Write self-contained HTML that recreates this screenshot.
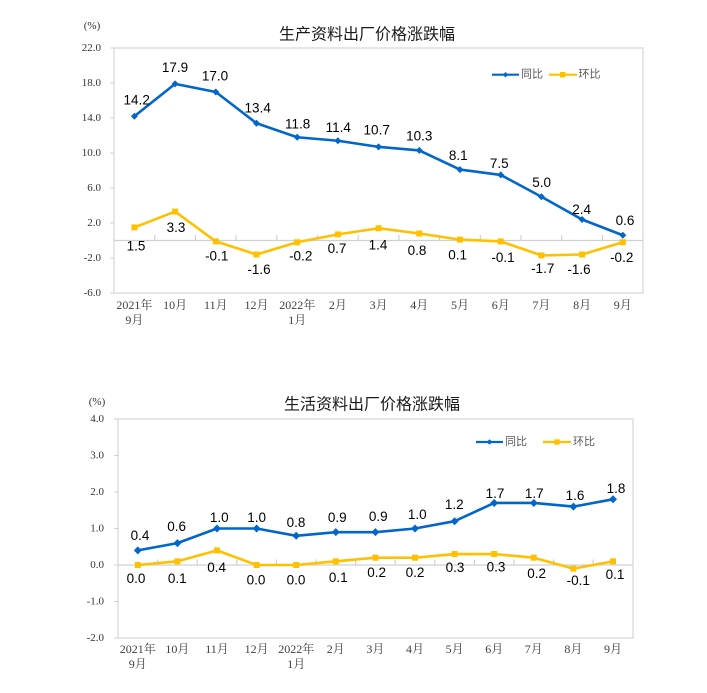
<!DOCTYPE html>
<html>
<head>
<meta charset="utf-8">
<style>
  html, body { margin:0; padding:0; background:#fff; }
  svg { display:block; }
  .t { font-family:"Liberation Sans","Noto Sans CJK SC",sans-serif; }
  .ttl { font-family:"Liberation Sans","Noto Sans CJK SC",sans-serif; font-size:16px; fill:#1a1a1a; }
  .yl { font-family:"Liberation Serif","Noto Serif CJK SC",serif; font-size:11px; fill:#333; }
  .xl { font-family:"Liberation Serif","Noto Serif CJK SC","Noto Sans CJK SC",serif; font-size:12px; fill:#404040; }
  .dl { font-family:"Liberation Sans",sans-serif; font-size:13.5px; fill:#000; }
  .lg { font-family:"Liberation Sans","Noto Sans CJK SC",sans-serif; font-size:11px; fill:#595959; }
</style>
</head>
<body>
<svg width="707" height="693" viewBox="0 0 707 693" xmlns="http://www.w3.org/2000/svg">
<rect x="0" y="0" width="707" height="693" fill="#fff"/>

<!-- ================= TOP CHART ================= -->
<text class="yl" x="92" y="26" text-anchor="middle" dominant-baseline="central">(%)</text>
<text class="ttl" x="367" y="35" text-anchor="middle" dominant-baseline="central">生产资料出厂价格涨跌幅</text>

<rect x="114" y="48" width="529" height="245" fill="none" stroke="#d6d6d6" stroke-width="1.2"/>
<!-- left axis ticks -->
<g stroke="#d0d0d0" stroke-width="1">
  <line x1="110" y1="48" x2="114" y2="48"/>
  <line x1="110" y1="83" x2="114" y2="83"/>
  <line x1="110" y1="118" x2="114" y2="118"/>
  <line x1="110" y1="153" x2="114" y2="153"/>
  <line x1="110" y1="188" x2="114" y2="188"/>
  <line x1="110" y1="223" x2="114" y2="223"/>
  <line x1="110" y1="258" x2="114" y2="258"/>
  <line x1="110" y1="293" x2="114" y2="293"/>
</g>
<!-- zero line + category ticks -->
<g stroke="#d0d0d0" stroke-width="1.2">
  <line x1="114" y1="240.5" x2="643" y2="240.5"/>
  <line x1="154.7" y1="235" x2="154.7" y2="240.5"/>
  <line x1="195.4" y1="235" x2="195.4" y2="240.5"/>
  <line x1="236.1" y1="235" x2="236.1" y2="240.5"/>
  <line x1="276.8" y1="235" x2="276.8" y2="240.5"/>
  <line x1="317.5" y1="235" x2="317.5" y2="240.5"/>
  <line x1="358.2" y1="235" x2="358.2" y2="240.5"/>
  <line x1="398.9" y1="235" x2="398.9" y2="240.5"/>
  <line x1="439.6" y1="235" x2="439.6" y2="240.5"/>
  <line x1="480.3" y1="235" x2="480.3" y2="240.5"/>
  <line x1="521.0" y1="235" x2="521.0" y2="240.5"/>
  <line x1="561.7" y1="235" x2="561.7" y2="240.5"/>
  <line x1="602.4" y1="235" x2="602.4" y2="240.5"/>
</g>
<!-- y labels -->
<g class="yl" text-anchor="end" dominant-baseline="central">
  <text x="101" y="48">22.0</text>
  <text x="101" y="83">18.0</text>
  <text x="101" y="118">14.0</text>
  <text x="101" y="153">10.0</text>
  <text x="101" y="188">6.0</text>
  <text x="101" y="223">2.0</text>
  <text x="101" y="258">-2.0</text>
  <text x="101" y="293">-6.0</text>
</g>
<!-- x labels -->
<g class="xl" text-anchor="middle" dominant-baseline="central">
  <text x="134.4" y="305">2021年</text><text x="134.4" y="320">9月</text>
  <text x="175.1" y="305">10月</text>
  <text x="215.8" y="305">11月</text>
  <text x="256.5" y="305">12月</text>
  <text x="297.2" y="305">2022年</text><text x="297.2" y="320">1月</text>
  <text x="337.9" y="305">2月</text>
  <text x="378.6" y="305">3月</text>
  <text x="419.3" y="305">4月</text>
  <text x="460.0" y="305">5月</text>
  <text x="500.7" y="305">6月</text>
  <text x="541.4" y="305">7月</text>
  <text x="582.1" y="305">8月</text>
  <text x="622.8" y="305">9月</text>
</g>

<!-- 环比 top -->
<polyline fill="none" stroke="#FFC000" stroke-width="2.6" stroke-linejoin="round"
  points="134.4,227.4 175.1,211.6 215.8,241.4 256.5,254.5 297.2,242.25 337.9,234.4 378.6,228.25 419.3,233.5 460.0,239.6 500.7,241.4 541.4,255.4 582.1,254.5 622.8,242.25"/>
<g fill="#FFC000">
  <rect x="131.4" y="224.4" width="6" height="6"/>
  <rect x="172.1" y="208.6" width="6" height="6"/>
  <rect x="212.8" y="238.4" width="6" height="6"/>
  <rect x="253.5" y="251.5" width="6" height="6"/>
  <rect x="294.2" y="239.25" width="6" height="6"/>
  <rect x="334.9" y="231.4" width="6" height="6"/>
  <rect x="375.6" y="225.25" width="6" height="6"/>
  <rect x="416.3" y="230.5" width="6" height="6"/>
  <rect x="457.0" y="236.6" width="6" height="6"/>
  <rect x="497.7" y="238.4" width="6" height="6"/>
  <rect x="538.4" y="252.4" width="6" height="6"/>
  <rect x="579.1" y="251.5" width="6" height="6"/>
  <rect x="619.8" y="239.25" width="6" height="6"/>
</g>

<!-- 同比 top -->
<polyline fill="none" stroke="#0066CC" stroke-width="2.6" stroke-linejoin="round"
  points="134.4,116.25 175.1,83.9 215.8,92.0 256.5,123.25 297.2,137.25 337.9,140.75 378.6,146.9 419.3,150.4 460.0,169.6 500.7,174.9 541.4,196.75 582.1,219.5 622.8,235.25"/>
<g fill="#0066CC">
  <polygon points="134.4,112.75 137.9,116.25 134.4,119.75 130.9,116.25"/>
  <polygon points="175.1,80.4 178.6,83.9 175.1,87.4 171.6,83.9"/>
  <polygon points="215.8,88.5 219.3,92.0 215.8,95.5 212.3,92.0"/>
  <polygon points="256.5,119.75 260.0,123.25 256.5,126.75 253.0,123.25"/>
  <polygon points="297.2,133.75 300.7,137.25 297.2,140.75 293.7,137.25"/>
  <polygon points="337.9,137.25 341.4,140.75 337.9,144.25 334.4,140.75"/>
  <polygon points="378.6,143.4 382.1,146.9 378.6,150.4 375.1,146.9"/>
  <polygon points="419.3,146.9 422.8,150.4 419.3,153.9 415.8,150.4"/>
  <polygon points="460.0,166.1 463.5,169.6 460.0,173.1 456.5,169.6"/>
  <polygon points="500.7,171.4 504.2,174.9 500.7,178.4 497.2,174.9"/>
  <polygon points="541.4,193.25 544.9,196.75 541.4,200.25 537.9,196.75"/>
  <polygon points="582.1,216.0 585.6,219.5 582.1,223.0 578.6,219.5"/>
  <polygon points="622.8,231.75 626.3,235.25 622.8,238.75 619.3,235.25"/>
</g>

<!-- top data labels 同比 -->
<g class="dl" text-anchor="middle" dominant-baseline="central">
  <text x="136.7" y="100">14.2</text>
  <text x="175" y="67.3">17.9</text>
  <text x="215" y="76">17.0</text>
  <text x="257.7" y="108">13.4</text>
  <text x="297.7" y="124">11.8</text>
  <text x="338.3" y="127.7">11.4</text>
  <text x="376.7" y="130">10.7</text>
  <text x="419.3" y="136">10.3</text>
  <text x="458.3" y="155.3">8.1</text>
  <text x="499.3" y="163.3">7.5</text>
  <text x="541.7" y="182.7">5.0</text>
  <text x="581.7" y="209.3">2.4</text>
  <text x="625" y="220.7">0.6</text>
</g>
<!-- top data labels 环比 -->
<g class="dl" text-anchor="middle" dominant-baseline="central">
  <text x="136" y="246">1.5</text>
  <text x="176" y="227.3">3.3</text>
  <text x="216.7" y="256">-0.1</text>
  <text x="259" y="269.3">-1.6</text>
  <text x="300.7" y="256">-0.2</text>
  <text x="337" y="248.3">0.7</text>
  <text x="378" y="245">1.4</text>
  <text x="417" y="250.7">0.8</text>
  <text x="457.7" y="255">0.1</text>
  <text x="503" y="257.7">-0.1</text>
  <text x="542.7" y="268.3">-1.7</text>
  <text x="579" y="269.3">-1.6</text>
  <text x="621.7" y="257.7">-0.2</text>
</g>

<!-- top legend -->
<line x1="492" y1="74.7" x2="519" y2="74.7" stroke="#0066CC" stroke-width="2.2"/>
<polygon points="505.5,72 508.2,74.7 505.5,77.4 502.8,74.7" fill="#0066CC"/>
<text class="lg" x="521" y="74.7" dominant-baseline="central">同比</text>
<line x1="549" y1="74.7" x2="577" y2="74.7" stroke="#FFC000" stroke-width="2.2"/>
<rect x="560" y="72" width="5.4" height="5.4" fill="#FFC000"/>
<text class="lg" x="578.5" y="74.7" dominant-baseline="central">环比</text>

<!-- ================= BOTTOM CHART ================= -->
<text class="yl" x="97" y="402" text-anchor="middle" dominant-baseline="central">(%)</text>
<text class="ttl" x="372" y="405" text-anchor="middle" dominant-baseline="central">生活资料出厂价格涨跌幅</text>

<rect x="118" y="419" width="515" height="219" fill="none" stroke="#d6d6d6" stroke-width="1.2"/>
<g stroke="#d0d0d0" stroke-width="1">
  <line x1="114" y1="419" x2="118" y2="419"/>
  <line x1="114" y1="455.5" x2="118" y2="455.5"/>
  <line x1="114" y1="492" x2="118" y2="492"/>
  <line x1="114" y1="528.5" x2="118" y2="528.5"/>
  <line x1="114" y1="565" x2="118" y2="565"/>
  <line x1="114" y1="601.5" x2="118" y2="601.5"/>
  <line x1="114" y1="638" x2="118" y2="638"/>
</g>
<g stroke="#d0d0d0" stroke-width="1.2">
  <line x1="118" y1="565" x2="633" y2="565"/>
  <line x1="157.6" y1="559.5" x2="157.6" y2="565"/>
  <line x1="197.2" y1="559.5" x2="197.2" y2="565"/>
  <line x1="236.8" y1="559.5" x2="236.8" y2="565"/>
  <line x1="276.4" y1="559.5" x2="276.4" y2="565"/>
  <line x1="316.0" y1="559.5" x2="316.0" y2="565"/>
  <line x1="355.6" y1="559.5" x2="355.6" y2="565"/>
  <line x1="395.2" y1="559.5" x2="395.2" y2="565"/>
  <line x1="434.8" y1="559.5" x2="434.8" y2="565"/>
  <line x1="474.4" y1="559.5" x2="474.4" y2="565"/>
  <line x1="514.0" y1="559.5" x2="514.0" y2="565"/>
  <line x1="553.6" y1="559.5" x2="553.6" y2="565"/>
  <line x1="593.2" y1="559.5" x2="593.2" y2="565"/>
</g>
<g class="yl" text-anchor="end" dominant-baseline="central">
  <text x="104" y="419">4.0</text>
  <text x="104" y="455.5">3.0</text>
  <text x="104" y="492">2.0</text>
  <text x="104" y="528.5">1.0</text>
  <text x="104" y="565">0.0</text>
  <text x="104" y="601.5">-1.0</text>
  <text x="104" y="638">-2.0</text>
</g>
<g class="xl" text-anchor="middle" dominant-baseline="central">
  <text x="137.8" y="649">2021年</text><text x="137.8" y="664">9月</text>
  <text x="177.4" y="649">10月</text>
  <text x="217.0" y="649">11月</text>
  <text x="256.6" y="649">12月</text>
  <text x="296.2" y="649">2022年</text><text x="296.2" y="664">1月</text>
  <text x="335.8" y="649">2月</text>
  <text x="375.4" y="649">3月</text>
  <text x="415.0" y="649">4月</text>
  <text x="454.6" y="649">5月</text>
  <text x="494.2" y="649">6月</text>
  <text x="533.8" y="649">7月</text>
  <text x="573.4" y="649">8月</text>
  <text x="613.0" y="649">9月</text>
</g>

<!-- 环比 bottom -->
<polyline fill="none" stroke="#FFC000" stroke-width="2.6" stroke-linejoin="round"
  points="137.8,565 177.4,561.35 217.0,550.4 256.6,565 296.2,565 335.8,561.35 375.4,557.7 415.0,557.7 454.6,554.05 494.2,554.05 533.8,557.7 573.4,568.65 613.0,561.35"/>
<g fill="#FFC000">
  <rect x="134.8" y="562" width="6" height="6"/>
  <rect x="174.4" y="558.35" width="6" height="6"/>
  <rect x="214.0" y="547.4" width="6" height="6"/>
  <rect x="253.6" y="562" width="6" height="6"/>
  <rect x="293.2" y="562" width="6" height="6"/>
  <rect x="332.8" y="558.35" width="6" height="6"/>
  <rect x="372.4" y="554.7" width="6" height="6"/>
  <rect x="412.0" y="554.7" width="6" height="6"/>
  <rect x="451.6" y="551.05" width="6" height="6"/>
  <rect x="491.2" y="551.05" width="6" height="6"/>
  <rect x="530.8" y="554.7" width="6" height="6"/>
  <rect x="570.4" y="565.65" width="6" height="6"/>
  <rect x="610.0" y="558.35" width="6" height="6"/>
</g>

<!-- 同比 bottom -->
<polyline fill="none" stroke="#0066CC" stroke-width="2.6" stroke-linejoin="round"
  points="137.8,550.4 177.4,543.1 217.0,528.5 256.6,528.5 296.2,535.8 335.8,532.15 375.4,532.15 415.0,528.5 454.6,521.2 494.2,502.95 533.8,502.95 573.4,506.6 613.0,499.3"/>
<g fill="#0066CC">
  <polygon points="137.8,546.4 141.8,550.4 137.8,554.4 133.8,550.4"/>
  <polygon points="177.4,539.1 181.4,543.1 177.4,547.1 173.4,543.1"/>
  <polygon points="217.0,524.5 221.0,528.5 217.0,532.5 213.0,528.5"/>
  <polygon points="256.6,524.5 260.6,528.5 256.6,532.5 252.6,528.5"/>
  <polygon points="296.2,531.8 300.2,535.8 296.2,539.8 292.2,535.8"/>
  <polygon points="335.8,528.15 339.8,532.15 335.8,536.15 331.8,532.15"/>
  <polygon points="375.4,528.15 379.4,532.15 375.4,536.15 371.4,532.15"/>
  <polygon points="415.0,524.5 419.0,528.5 415.0,532.5 411.0,528.5"/>
  <polygon points="454.6,517.2 458.6,521.2 454.6,525.2 450.6,521.2"/>
  <polygon points="494.2,498.95 498.2,502.95 494.2,506.95 490.2,502.95"/>
  <polygon points="533.8,498.95 537.8,502.95 533.8,506.95 529.8,502.95"/>
  <polygon points="573.4,502.6 577.4,506.6 573.4,510.6 569.4,506.6"/>
  <polygon points="613.0,495.3 617.0,499.3 613.0,503.3 609.0,499.3"/>
</g>

<g class="dl" text-anchor="middle" dominant-baseline="central">
  <text x="140" y="535.7">0.4</text>
  <text x="176.7" y="526.7">0.6</text>
  <text x="219.3" y="517.7">1.0</text>
  <text x="256.7" y="517.7">1.0</text>
  <text x="296" y="522.7">0.8</text>
  <text x="337.3" y="517.7">0.9</text>
  <text x="378.3" y="516.7">0.9</text>
  <text x="417.3" y="514.3">1.0</text>
  <text x="454.3" y="504.3">1.2</text>
  <text x="495" y="493.3">1.7</text>
  <text x="534.3" y="493.3">1.7</text>
  <text x="575" y="495.7">1.6</text>
  <text x="616" y="488.3">1.8</text>
</g>
<g class="dl" text-anchor="middle" dominant-baseline="central">
  <text x="136" y="578.3">0.0</text>
  <text x="177.3" y="578.3">0.1</text>
  <text x="216.7" y="567.7">0.4</text>
  <text x="256" y="580">0.0</text>
  <text x="296" y="580">0.0</text>
  <text x="338.3" y="577.7">0.1</text>
  <text x="376.7" y="572.3">0.2</text>
  <text x="415" y="572.3">0.2</text>
  <text x="455" y="567.7">0.3</text>
  <text x="496" y="567">0.3</text>
  <text x="536.7" y="573.3">0.2</text>
  <text x="578.3" y="580.7">-0.1</text>
  <text x="615" y="574.3">0.1</text>
</g>

<!-- bottom legend -->
<line x1="476" y1="442" x2="503" y2="442" stroke="#0066CC" stroke-width="2.2"/>
<polygon points="489.5,439.3 492.2,442 489.5,444.7 486.8,442" fill="#0066CC"/>
<text class="lg" x="505" y="442" dominant-baseline="central">同比</text>
<line x1="543" y1="442" x2="571" y2="442" stroke="#FFC000" stroke-width="2.2"/>
<rect x="554.3" y="439.3" width="5.4" height="5.4" fill="#FFC000"/>
<text class="lg" x="573" y="442" dominant-baseline="central">环比</text>
</svg>
</body>
</html>
